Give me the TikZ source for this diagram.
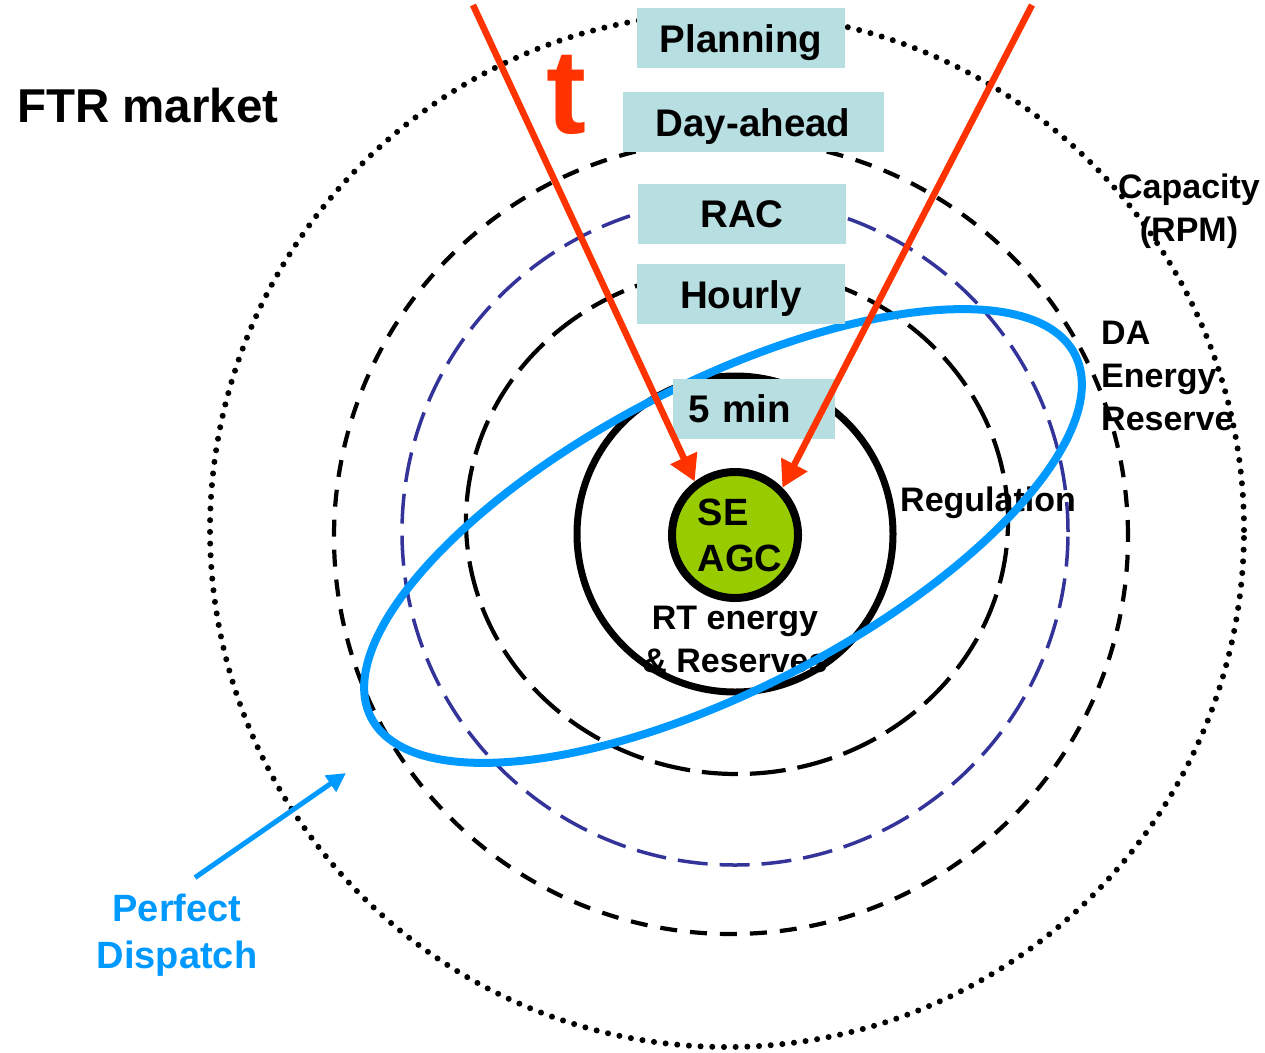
\documentclass[tikz,border=0pt]{standalone}
\usepackage{fontspec}
\setmainfont{Liberation Sans}
\usepackage{tikz}
\usetikzlibrary{arrows.meta, positioning}
\definecolor{stageteal}{HTML}{B7DEE0}
\definecolor{timered}{HTML}{FF3300}
\definecolor{dispblue}{HTML}{0099FF}
\definecolor{ringnavy}{HTML}{333399}
\definecolor{agcgreen}{HTML}{99CC00}

\begin{document}
\begin{tikzpicture}[x=1pt, y=-1pt,
    stagebox/.style={rectangle, fill=stageteal, text=black, font=\fontsize{38.5}{40}\selectfont\bfseries, minimum width=208pt, minimum height=60pt, inner sep=0pt, text height=28pt, text depth=0pt},
    ringlabel/.style={text=black, font=\fontsize{34}{43}\selectfont\bfseries, inner sep=0pt},
    ringdots/.style={line width=6pt, line cap=round, dash pattern=on 0pt off 11.7pt},
    ringouter/.style={line width=4.2pt, dash pattern=on 17pt off 13pt},
    ringmid/.style={ringnavy, line width=3.5pt, dash pattern=on 30pt off 12pt},
    ringinner/.style={line width=4.2pt, dash pattern=on 36pt off 12pt},
    timearrow/.style={timered, line width=6.5pt, -{Triangle[width=28pt,length=26pt]}}]
  \useasboundingbox (0,0) rectangle (1265,1052);
  \node (ftr) [anchor=base west, inner sep=0pt, font=\fontsize{47.5}{50}\selectfont\bfseries] at (17,122) {FTR market};%market title
  \node (t) [anchor=base, inner sep=0pt, text=timered, font=\fontsize{120}{120}\selectfont\bfseries] at (566,133) {t};%time letter
  \node (cap) [ringlabel, align=center] at (1189,211) {Capacity\\(RPM)};%outer ring label
  \node (da) [ringlabel, align=left, anchor=west] at (1101,376) {DA\\Energy\\Reserve};%DA ring label
  \node (reg) [ringlabel, anchor=west] at (900,503) {Regulation};%regulation label
  \node (rt) [ringlabel, align=center] at (735,639) {RT energy\\\& Reserves};%RT label
  \node (pd) [text=dispblue, align=center, inner sep=0pt, font=\fontsize{38}{47}\selectfont\bfseries] at (177,935) {Perfect\\Dispatch};%dispatch label
  % rings
  \draw[ringdots] (727,530) circle [radius=517pt];%capacity ring
  \draw[ringouter] (731,537) circle [radius=397pt];%day-ahead ring
  \draw[ringmid] (735,532) circle [radius=333pt];%RAC ring
  \draw[ringinner] (737,521) ellipse [x radius=271pt, y radius=253pt];%hourly ring
  \draw[line width=7pt] (735,534) circle [radius=158pt];%5 min ring
  \node (se) [circle, draw=black, line width=8pt, fill=agcgreen, minimum size=126pt, inner sep=0pt, align=left, font=\fontsize{38}{46}\selectfont\bfseries] at (735,535) {\hspace*{10pt}SE\\\hspace*{10pt}AGC};%SE/AGC core
  \draw[dispblue, line width=8pt, rotate around={27.3:(723,536)}] (723,536) ellipse [x radius=396pt, y radius=153pt];%perfect dispatch loop
  % stage boxes
  \node (plan) [stagebox] at (741,38) {Planning};%planning box
  \node (dayahead) [stagebox, below=24pt of plan, xshift=12pt, minimum width=261pt] {Day-ahead};%day-ahead box
  \node (rac) [stagebox, below=31pt of dayahead, xshift=-11pt] {RAC};%RAC box
  \node (hourly) [stagebox, below=20pt of rac, xshift=-1pt] {Hourly};%hourly box
  \node (fivemin) [stagebox, below=54pt of hourly, xshift=13pt, minimum width=162pt, text width=132pt, align=left, inner xsep=15pt] {5 min};%5 min box
  % arrows
  \coordinate (tleft) at (473,5);
  \coordinate (tright) at (1032,5);
  \coordinate (pdtip) at (346,773);
  \draw[timearrow] (tleft) -- (se.127);%left time arrow
  \draw[timearrow] (tright) -- (se.45);%right time arrow
  \draw[dispblue, line width=5pt, -{Triangle[width=19pt,length=19pt]}] ([xshift=18pt, yshift=16pt]pd.north) -- (pdtip);%dispatch pointer
\end{tikzpicture}
\end{document}
